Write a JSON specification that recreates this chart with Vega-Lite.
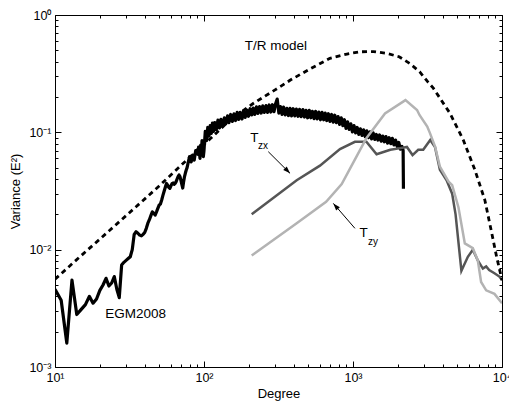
{
  "$schema": "https://vega.github.io/schema/vega-lite/v6.json",
  "width": 447,
  "height": 352,
  "autosize": {"type": "none"},
  "padding": {"left": 55, "top": 15, "right": 7, "bottom": 38},
  "config": {
    "view": {"stroke": "#000", "strokeWidth": 1},
    "font": "Liberation Sans",
    "axis": {"domain": false, "grid": false, "tickColor": "#000", "labelColor": "#000", "titleColor": "#000", "labelFont": "Liberation Sans", "titleFont": "Liberation Sans", "labelFontSize": 12.5, "titleFontSize": 13, "titleFontWeight": "normal", "labelOverlap": false, "labelFlush": false}
  },
  "datasets": {
    "egm": [
      {"d":10,"v":0.0046},{"d":11,"v":0.0037},{"d":12,"v":0.0016},{"d":13,"v":0.0055},{"d":14,"v":0.0028},{"d":15,"v":0.0031},{"d":16,"v":0.0034},{"d":17,"v":0.0040},{"d":18,"v":0.0035},{"d":19,"v":0.0038},{"d":20,"v":0.0045},{"d":21,"v":0.0050},{"d":22,"v":0.0057},{"d":23,"v":0.0049},{"d":24,"v":0.0052},{"d":25,"v":0.0059},{"d":26,"v":0.0046},{"d":27,"v":0.0039},{"d":28,"v":0.0074},{"d":29,"v":0.0078},{"d":30,"v":0.0081},{"d":31,"v":0.0084},{"d":32,"v":0.0087},{"d":33,"v":0.0100},{"d":34,"v":0.0135},{"d":35,"v":0.0142},{"d":36,"v":0.0138},{"d":37,"v":0.0133},{"d":38,"v":0.0131},{"d":39,"v":0.0135},{"d":40,"v":0.0140},{"d":41,"v":0.0152},{"d":42,"v":0.0168},{"d":43,"v":0.0180},{"d":44,"v":0.0195},{"d":45,"v":0.0210},{"d":46,"v":0.0205},{"d":47,"v":0.0197},{"d":48,"v":0.0210},{"d":49,"v":0.0225},{"d":50,"v":0.0240},{"d":51,"v":0.0245},{"d":52,"v":0.0265},{"d":53,"v":0.0290},{"d":54,"v":0.0315},{"d":55,"v":0.0340},{"d":56,"v":0.0367},{"d":57,"v":0.0355},{"d":58,"v":0.0340},{"d":59,"v":0.0333},{"d":60,"v":0.0350},{"d":61,"v":0.0365},{"d":62,"v":0.0370},{"d":63,"v":0.0360},{"d":64,"v":0.0367},{"d":65,"v":0.0380},{"d":66,"v":0.0400},{"d":67,"v":0.0420},{"d":68,"v":0.0433},{"d":69,"v":0.0420},{"d":70,"v":0.0390},{"d":71,"v":0.0360},{"d":72,"v":0.0335},{"d":73,"v":0.0380},{"d":74,"v":0.0420},{"d":75,"v":0.0450},{"d":76,"v":0.0477},{"d":77,"v":0.0500},{"d":78,"v":0.0540},{"d":79,"v":0.0580},{"d":80,"v":0.0620},{"d":81,"v":0.0600},{"d":82,"v":0.0560},{"d":83,"v":0.0600},{"d":84,"v":0.0640},{"d":85,"v":0.0600},{"d":86,"v":0.0580},{"d":87,"v":0.0640},{"d":88,"v":0.0700},{"d":89,"v":0.0660},{"d":90,"v":0.0710},{"d":91,"v":0.0650},{"d":92,"v":0.0750},{"d":93,"v":0.0690},{"d":94,"v":0.0600},{"d":95,"v":0.0780},{"d":96,"v":0.0660},{"d":97,"v":0.0850},{"d":98,"v":0.0700},{"d":99,"v":0.0620},{"d":100,"v":0.0700},
      {"d":102,"v":0.102},{"d":104,"v":0.085},{"d":106,"v":0.110},{"d":108,"v":0.093},{"d":110,"v":0.114},{"d":112,"v":0.098},{"d":114,"v":0.120},{"d":116,"v":0.102},{"d":118,"v":0.121},{"d":121,"v":0.106},{"d":124,"v":0.127},{"d":127,"v":0.109},{"d":130,"v":0.129},{"d":133,"v":0.113},{"d":137,"v":0.133},{"d":140,"v":0.118},{"d":144,"v":0.138},{"d":147,"v":0.121},{"d":151,"v":0.142},{"d":155,"v":0.124},{"d":159,"v":0.144},{"d":163,"v":0.126},{"d":167,"v":0.148},{"d":171,"v":0.129},{"d":175,"v":0.148},{"d":180,"v":0.130},{"d":184,"v":0.152},{"d":189,"v":0.134},{"d":194,"v":0.155},{"d":199,"v":0.137},{"d":204,"v":0.159},{"d":209,"v":0.141},{"d":214,"v":0.161},{"d":219,"v":0.142},{"d":225,"v":0.165},{"d":230,"v":0.145},{"d":236,"v":0.166},{"d":242,"v":0.146},{"d":248,"v":0.168},{"d":254,"v":0.148},{"d":261,"v":0.169},{"d":267,"v":0.148},{"d":274,"v":0.171},{"d":281,"v":0.149},{"d":288,"v":0.172},{"d":295,"v":0.150},{"d":302,"v":0.174},{"d":310,"v":0.192},{"d":318,"v":0.146},{"d":326,"v":0.166},{"d":334,"v":0.142},{"d":342,"v":0.164},{"d":351,"v":0.141},{"d":360,"v":0.160},{"d":369,"v":0.139},{"d":378,"v":0.160},{"d":387,"v":0.138},{"d":397,"v":0.159},{"d":407,"v":0.138},{"d":417,"v":0.158},{"d":428,"v":0.137},{"d":438,"v":0.157},{"d":449,"v":0.136},{"d":461,"v":0.156},{"d":472,"v":0.135},{"d":484,"v":0.154},{"d":496,"v":0.133},{"d":509,"v":0.154},{"d":521,"v":0.133},{"d":534,"v":0.151},{"d":548,"v":0.131},{"d":561,"v":0.151},{"d":575,"v":0.130},{"d":590,"v":0.149},{"d":605,"v":0.128},{"d":620,"v":0.148},{"d":635,"v":0.128},{"d":651,"v":0.146},{"d":667,"v":0.126},{"d":684,"v":0.144},{"d":701,"v":0.124},{"d":719,"v":0.142},{"d":737,"v":0.122},{"d":755,"v":0.140},{"d":774,"v":0.121},{"d":794,"v":0.136},{"d":813,"v":0.117},{"d":834,"v":0.133},{"d":855,"v":0.114},{"d":876,"v":0.128},{"d":898,"v":0.108},{"d":920,"v":0.123},{"d":943,"v":0.106},{"d":967,"v":0.118},{"d":991,"v":0.101},{"d":1016,"v":0.114},{"d":1041,"v":0.099},{"d":1067,"v":0.110},{"d":1094,"v":0.096},{"d":1121,"v":0.107},{"d":1149,"v":0.094},{"d":1178,"v":0.105},{"d":1208,"v":0.092},{"d":1238,"v":0.103},{"d":1269,"v":0.090},{"d":1300,"v":0.101},{"d":1333,"v":0.088},{"d":1366,"v":0.099},{"d":1400,"v":0.087},{"d":1435,"v":0.096},{"d":1471,"v":0.086},{"d":1508,"v":0.095},{"d":1546,"v":0.084},{"d":1584,"v":0.093},{"d":1624,"v":0.083},{"d":1665,"v":0.092},{"d":1706,"v":0.081},{"d":1749,"v":0.090},{"d":1793,"v":0.080},{"d":1837,"v":0.089},{"d":1883,"v":0.078},{"d":1930,"v":0.086},{"d":1979,"v":0.076},{"d":2028,"v":0.082},{"d":2079,"v":0.072},{"d":2131,"v":0.076},{"d":2170,"v":0.070},{"d":2180,"v":0.033}
    ],
    "tr": [
      {"d":10,"v":0.0056},{"d":15,"v":0.0089},{"d":23.4,"v":0.0147},{"d":35,"v":0.0232},{"d":50,"v":0.0349},{"d":76.5,"v":0.058},{"d":110,"v":0.088},{"d":150,"v":0.128},{"d":215,"v":0.177},{"d":300,"v":0.23},{"d":380,"v":0.279},{"d":500,"v":0.34},{"d":700,"v":0.427},{"d":910,"v":0.465},{"d":1110,"v":0.486},{"d":1370,"v":0.488},{"d":1680,"v":0.471},{"d":2040,"v":0.441},{"d":2400,"v":0.387},{"d":2800,"v":0.329},{"d":3170,"v":0.27},{"d":3460,"v":0.238},{"d":4480,"v":0.145},{"d":5500,"v":0.086},{"d":6570,"v":0.048},{"d":7670,"v":0.0265},{"d":8500,"v":0.0142},{"d":9200,"v":0.0087},{"d":10000,"v":0.0055}
    ],
    "tzx": [
      {"d":209,"v":0.020},{"d":419,"v":0.039},{"d":600,"v":0.052},{"d":818,"v":0.072},{"d":1030,"v":0.083},{"d":1230,"v":0.083},{"d":1440,"v":0.065},{"d":1780,"v":0.071},{"d":2040,"v":0.073},{"d":2300,"v":0.075},{"d":2510,"v":0.064},{"d":2740,"v":0.071},{"d":2960,"v":0.071},{"d":3300,"v":0.086},{"d":3550,"v":0.075},{"d":3830,"v":0.048},{"d":4250,"v":0.039},{"d":4630,"v":0.030},{"d":4880,"v":0.020},{"d":5340,"v":0.0066},{"d":5900,"v":0.0087},{"d":6370,"v":0.0100},{"d":6880,"v":0.0081},{"d":7440,"v":0.0069},{"d":7830,"v":0.0072},{"d":8200,"v":0.0067},{"d":8900,"v":0.0063},{"d":9600,"v":0.0059},{"d":10000,"v":0.0055}
    ],
    "tzy": [
      {"d":209,"v":0.0089},{"d":419,"v":0.0168},{"d":660,"v":0.0256},{"d":840,"v":0.0362},{"d":1010,"v":0.056},{"d":1230,"v":0.089},{"d":1640,"v":0.145},{"d":2250,"v":0.188},{"d":2690,"v":0.155},{"d":2800,"v":0.140},{"d":3150,"v":0.112},{"d":3290,"v":0.098},{"d":3550,"v":0.076},{"d":3830,"v":0.051},{"d":4380,"v":0.038},{"d":4630,"v":0.0355},{"d":5100,"v":0.023},{"d":5630,"v":0.0113},{"d":6370,"v":0.0103},{"d":6880,"v":0.0081},{"d":7240,"v":0.0053},{"d":7830,"v":0.0045},{"d":8900,"v":0.0042},{"d":10000,"v":0.0035}
    ],
    "arrows": [
      {"name":"zx","d1":270,"v1":0.0684,"d2":378,"v2":0.0447},
      {"name":"zy","d1":1030,"v1":0.0152,"d2":738,"v2":0.0248}
    ],
    "labels": [
      {"text":"T/R model","d":188,"v":0.503},
      {"text":"EGM2008","d":21.7,"v":0.0026},
      {"text":"T","d":204,"v":0.0832},
      {"text":"T","d":1107,"v":0.0129}
    ],
    "subs": [
      {"text":"zx","d":230,"v":0.0728},
      {"text":"zy","d":1260,"v":0.01094}
    ]
  },
  "resolve": {"axis": {"x": "independent", "y": "independent"}},
  "layer": [
    {
      "layer": [
        {
          "data": {"name": "egm"},
          "mark": {"type": "line", "color": "#000", "strokeWidth": 3.2, "strokeJoin": "round", "clip": true},
          "encoding": {
            "x": {"field": "d", "type": "quantitative", "scale": {"type": "log", "domain": [10, 10000], "nice": false},
              "axis": {"orient": "bottom", "title": "Degree", "titlePadding": 1,
                "values": [10,20,30,40,50,60,70,80,90,100,200,300,400,500,600,700,800,900,1000,2000,3000,4000,5000,6000,7000,8000,9000,10000],
                "labelExpr": "abs(log(datum.value)/LN10 - round(log(datum.value)/LN10)) < 0.001 ? '10' + ['⁰','¹','²','³','⁴'][round(log(datum.value)/LN10)] : ''",
                "tickSize": {"condition": {"test": "abs(log(datum.value)/LN10 - round(log(datum.value)/LN10)) < 0.001", "value": -6}, "value": -3},
                "labelPadding": 10}},
            "y": {"field": "v", "type": "quantitative", "scale": {"type": "log", "domain": [0.001, 1], "nice": false},
              "axis": {"orient": "left", "title": "Variance (E²)", "titlePadding": 6,
                "values": [0.001,0.002,0.003,0.004,0.005,0.006,0.007,0.008,0.009,0.01,0.02,0.03,0.04,0.05,0.06,0.07,0.08,0.09,0.1,0.2,0.3,0.4,0.5,0.6,0.7,0.8,0.9,1],
                "labelExpr": "abs(log(datum.value)/LN10 - round(log(datum.value)/LN10)) < 0.001 ? '10' + ['⁻³','⁻²','⁻¹','⁰'][round(log(datum.value)/LN10)+3] : ''",
                "tickSize": {"condition": {"test": "abs(log(datum.value)/LN10 - round(log(datum.value)/LN10)) < 0.001", "value": -6}, "value": -3},
                "labelPadding": 10}}
          }
        },
        {
          "data": {"name": "tzx"},
          "mark": {"type": "line", "color": "#555555", "strokeWidth": 2.5, "clip": true},
          "encoding": {
            "x": {"field": "d", "type": "quantitative"},
            "y": {"field": "v", "type": "quantitative"}
          }
        },
        {
          "data": {"name": "tzy"},
          "mark": {"type": "line", "color": "#b3b3b3", "strokeWidth": 2.5, "clip": true},
          "encoding": {
            "x": {"field": "d", "type": "quantitative"},
            "y": {"field": "v", "type": "quantitative"}
          }
        },
        {
          "data": {"name": "arrows"},
          "mark": {"type": "rule", "color": "#000", "strokeWidth": 1},
          "encoding": {
            "x": {"field": "d1", "type": "quantitative"},
            "y": {"field": "v1", "type": "quantitative"},
            "x2": {"field": "d2"},
            "y2": {"field": "v2"}
          }
        },
        {
          "data": {"name": "arrows"},
          "transform": [{"filter": "datum.name === 'zx'"}],
          "mark": {"type": "point", "shape": "M0,0L-0.45,1.3L0.45,1.3Z", "filled": true, "color": "#000", "opacity": 1, "size": 120, "angle": 135},
          "encoding": {
            "x": {"field": "d2", "type": "quantitative"},
            "y": {"field": "v2", "type": "quantitative"}
          }
        },
        {
          "data": {"name": "arrows"},
          "transform": [{"filter": "datum.name === 'zy'"}],
          "mark": {"type": "point", "shape": "M0,0L-0.45,1.3L0.45,1.3Z", "filled": true, "color": "#000", "opacity": 1, "size": 120, "angle": 319},
          "encoding": {
            "x": {"field": "d2", "type": "quantitative"},
            "y": {"field": "v2", "type": "quantitative"}
          }
        },
        {
          "data": {"name": "labels"},
          "mark": {"type": "text", "align": "left", "baseline": "alphabetic", "fontSize": 13.5, "color": "#000", "font": "Liberation Sans"},
          "encoding": {
            "x": {"field": "d", "type": "quantitative"},
            "y": {"field": "v", "type": "quantitative"},
            "text": {"field": "text"}
          }
        },
        {
          "data": {"name": "subs"},
          "mark": {"type": "text", "align": "left", "baseline": "alphabetic", "fontSize": 10, "color": "#000", "font": "Liberation Sans"},
          "encoding": {
            "x": {"field": "d", "type": "quantitative"},
            "y": {"field": "v", "type": "quantitative"},
            "text": {"field": "text"}
          }
        }
      ]
    },
    {
      "data": {"name": "tr"},
      "mark": {"type": "line", "color": "#000", "strokeWidth": 2.8, "strokeDash": [5, 4], "clip": true},
      "encoding": {
        "x": {"field": "d", "type": "quantitative", "scale": {"type": "log", "domain": [10, 10000], "nice": false},
          "axis": {"orient": "top", "title": null, "labels": false,
            "values": [10,20,30,40,50,60,70,80,90,100,200,300,400,500,600,700,800,900,1000,2000,3000,4000,5000,6000,7000,8000,9000,10000],
            "tickSize": {"condition": {"test": "abs(log(datum.value)/LN10 - round(log(datum.value)/LN10)) < 0.001", "value": -6}, "value": -3}}},
        "y": {"field": "v", "type": "quantitative", "scale": {"type": "log", "domain": [0.001, 1], "nice": false},
          "axis": {"orient": "right", "title": null, "labels": false,
            "values": [0.001,0.002,0.003,0.004,0.005,0.006,0.007,0.008,0.009,0.01,0.02,0.03,0.04,0.05,0.06,0.07,0.08,0.09,0.1,0.2,0.3,0.4,0.5,0.6,0.7,0.8,0.9,1],
            "tickSize": {"condition": {"test": "abs(log(datum.value)/LN10 - round(log(datum.value)/LN10)) < 0.001", "value": -6}, "value": -3}}}
      }
    }
  ]
}
